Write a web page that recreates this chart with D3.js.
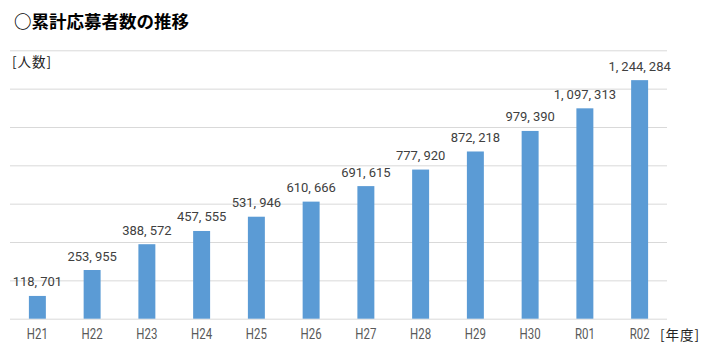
<!DOCTYPE html>
<html>
<head>
<meta charset="utf-8">
<script src="https://cdn.jsdelivr.net/npm/d3@7"></script>
<style>
  body { margin: 0; background: #fff; }
  svg { display: block; }
  .lbl { font-family: Roboto, "Liberation Sans", sans-serif; }
</style>
</head>
<body>
<svg id="canvas" width="715" height="351"></svg>
<script>
var categories = ['H21', 'H22', 'H23', 'H24', 'H25', 'H26', 'H27', 'H28', 'H29', 'H30', 'R01', 'R02'];
var applicants = [118701, 253955, 388572, 457555, 531946, 610666, 691615, 777920, 872218, 979390, 1097313, 1244284];
var yTicks = [0, 200000, 400000, 600000, 800000, 1000000, 1200000, 1400000];

var svg = d3.select('#canvas');
var plotLeft = 10, plotRight = 667, plotTop = 50.3, plotBottom = 318.7;

var x = d3.scaleBand().domain(categories).range([plotLeft, plotRight]).paddingInner(0.69).paddingOuter(0.345);
var y = d3.scaleLinear().domain([0, 1400000]).range([plotBottom, plotTop]);

// title
svg.append('text')
  .attr('x', 14).attr('y', 27.5)
  .style('font-family', '"Noto Sans CJK JP", sans-serif')
  .style('font-weight', 'bold').style('font-size', '17.5px').style('fill', '#000')
  .text('○累計応募者数の推移');

// gridlines
var grid = svg.append('g').attr('transform', 'translate(' + plotLeft + ',0)')
  .call(d3.axisLeft(y).tickValues(yTicks).tickSize(-(plotRight - plotLeft)).tickFormat(''));
grid.select('.domain').remove();
grid.selectAll('.tick line').attr('stroke', '#D9D9D9').attr('stroke-width', 1);

// bars
svg.append('g').selectAll('rect').data(applicants).join('rect')
  .attr('x', function(d, i) { return x(categories[i]); })
  .attr('y', function(d) { return y(d); })
  .attr('width', x.bandwidth())
  .attr('height', function(d) { return y(0) - y(d); })
  .attr('fill', '#5B9BD5');

// value labels, commas spaced out like the original
var fmt = d3.format(',');
var labels = svg.append('g').selectAll('text').data(applicants).join('text')
  .attr('class', 'lbl')
  .attr('x', function(d, i) { return x(categories[i]) + x.bandwidth() / 2; })
  .attr('y', function(d) { return y(d) - 9.5; })
  .attr('text-anchor', 'middle')
  .style('font-size', '13px').style('fill', '#404040');
labels.each(function(d) {
  var parts = fmt(d).split(',');
  var t = d3.select(this);
  parts.forEach(function(p, i) {
    t.append('tspan').text(p);
    if (i < parts.length - 1)
      t.append('tspan').style('letter-spacing', '3px').text(',');
  });
});

// x axis
var xAxis = svg.append('g').attr('transform', 'translate(0,' + plotBottom + ')')
  .call(d3.axisBottom(x).tickSize(0).tickPadding(9.5));
xAxis.select('.domain').remove();
xAxis.selectAll('text').attr('class', 'lbl').attr('transform', 'scale(0.74,1)')
  .style('font-size', '15.5px').style('fill', '#595959');

// unit labels
svg.append('text').attr('x', 12).attr('y', 67)
  .style('font-family', '"Noto Sans CJK JP", sans-serif').style('font-size', '13.5px')
  .style('letter-spacing', '1px').style('fill', '#222')
  .text('[人数]');
svg.append('text').attr('x', 660).attr('y', 339.5)
  .style('font-family', '"Noto Sans CJK JP", sans-serif').style('font-size', '13.5px')
  .style('letter-spacing', '1px').style('fill', '#222')
  .text('[年度]');
</script>
</body>
</html>
